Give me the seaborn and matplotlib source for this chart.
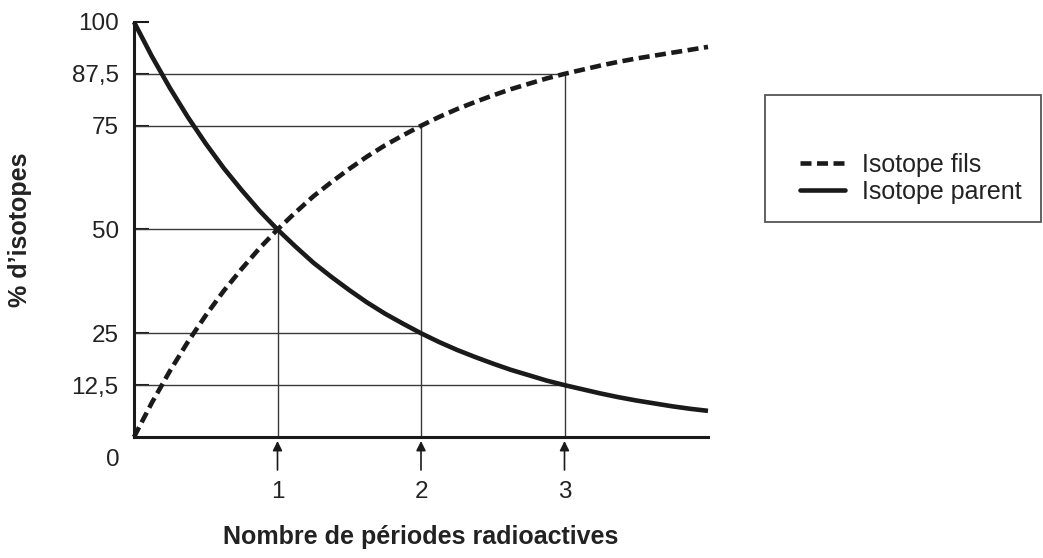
import matplotlib
matplotlib.use("Agg")
import matplotlib.pyplot as plt
from matplotlib.patches import Rectangle
from matplotlib.lines import Line2D
import seaborn as sns
import pandas as pd

# ---- data ----
periods = [0, 0.125, 0.25, 0.375, 0.5, 0.625, 0.75, 0.875, 1,
           1.125, 1.25, 1.375, 1.5, 1.625, 1.75, 1.875, 2,
           2.125, 2.25, 2.375, 2.5, 2.625, 2.75, 2.875, 3,
           3.125, 3.25, 3.375, 3.5, 3.625, 3.75, 3.875, 4]
parent = [100, 91.7, 84.1, 77.1, 70.7, 64.8, 59.5, 54.5, 50,
          45.9, 42, 38.6, 35.4, 32.4, 29.7, 27.3, 25,
          22.9, 21, 19.3, 17.7, 16.2, 14.9, 13.6, 12.5,
          11.5, 10.5, 9.6, 8.8, 8.1, 7.4, 6.8, 6.3]
fils = [0, 8.3, 15.9, 22.9, 29.3, 35.2, 40.5, 45.5, 50,
        54.1, 58, 61.4, 64.6, 67.6, 70.3, 72.7, 75,
        77.1, 79, 80.7, 82.3, 83.8, 85.1, 86.4, 87.5,
        88.5, 89.5, 90.4, 91.2, 91.9, 92.6, 93.3, 94]
ytick_vals = [12.5, 25, 50, 75, 87.5, 100]
ytick_labels = ["12,5", "25", "50", "75", "87,5", "100"]
xtick_vals = [1, 2, 3]
xtick_labels = ["1", "2", "3"]
# guide lines: horizontal level -> x end, vertical position -> top
h_levels = [50, 75, 87.5, 25, 12.5]
h_ends = [1, 2, 3, 2, 3]
v_pos = [1, 2, 3]
v_tops = [50, 75, 87.5]
label_fils = "Isotope fils"
label_parent = "Isotope parent"
xlabel = "Nombre de périodes radioactives"
ylabel = "% d\u2019isotopes"

sns.set_theme(style="white")
plt.rcParams["font.family"] = ["Liberation Sans", "DejaVu Sans"]

W, H = 1043, 558
fig = plt.figure(figsize=(W / 100, H / 100), dpi=100)
ax = fig.add_axes([134 / W, 1 - 437 / H, 574 / W, 415 / H])

ink = "#1a1a1a"
txt = "#222222"
fs_tick = 17.5
fs_lab = 18

df = pd.DataFrame({"x": periods * 2,
                   "y": fils + parent,
                   "serie": [label_fils] * len(fils) + [label_parent] * len(parent)})

ax.hlines(h_levels, 0, h_ends, colors="#3a3a3a", linewidth=1.0, zorder=1)
ax.vlines(v_pos, 0, v_tops, colors="#3a3a3a", linewidth=1.0, zorder=1)

sns.lineplot(data=df, x="x", y="y", hue="serie", style="serie",
             palette=[ink, ink],
             dashes={label_fils: (2.4, 1.2), label_parent: ""},
             linewidth=3.3, ax=ax, legend=False, zorder=3)
for ln in ax.lines:
    ln.set_clip_on(False)
    ln.set_solid_capstyle("butt")
    ln.set_dash_capstyle("butt")

ax.set_xlim(0, 4)
ax.set_ylim(0, 100)

for s in ["top", "right"]:
    ax.spines[s].set_visible(False)
for s in ["left", "bottom"]:
    ax.spines[s].set_color(ink)
    ax.spines[s].set_linewidth(2.2)

ax.set_yticks(ytick_vals)
ax.set_yticklabels(ytick_labels)
ax.tick_params(axis="y", direction="in", length=11, width=1.5, color=ink,
               labelsize=fs_tick, labelcolor=txt, pad=11, left=True)
ax.set_xticks(xtick_vals)
ax.set_xticklabels(xtick_labels)
ax.tick_params(axis="x", length=0, labelsize=fs_tick, labelcolor=txt, pad=32)

ax.text(-14 / 574, -23 / 415, "0", transform=ax.transAxes,
        ha="right", va="center", fontsize=fs_tick, color=txt)

for xv in xtick_vals:
    ax.annotate("", xy=(xv, -4 / 415), xytext=(xv, -33 / 415),
                xycoords=ax.get_xaxis_transform(), textcoords=ax.get_xaxis_transform(),
                arrowprops=dict(arrowstyle="-|>", color=ink, lw=1.2,
                                mutation_scale=14, shrinkA=0, shrinkB=0))

ax.set_xlabel(xlabel, fontsize=fs_lab, fontweight="bold", color=txt, va="center")
ax.xaxis.set_label_coords(0.5, -(537 - 437) / 415)
ax.set_ylabel(ylabel, fontsize=fs_lab, fontweight="bold", color=txt, va="center")
ax.yaxis.set_label_coords(-(134 - 20) / 574, 0.5)

fig.patches.append(Rectangle((765 / W, 1 - 222 / H), (1041 - 765) / W, (222 - 95) / H,
                             transform=fig.transFigure, fill=False,
                             edgecolor="#555555", linewidth=1.3))
handles = [Line2D([], [], color=ink, lw=3.3, linestyle=(0, (2.4, 1.2)), dash_capstyle="butt"),
           Line2D([], [], color=ink, lw=3.3)]
fig.legend(handles, [label_fils, label_parent], loc="center left",
           bbox_to_anchor=(800 / W, 1 - 178.5 / H), frameon=False,
           fontsize=fs_lab, handlelength=1.8, handletextpad=0.68, labelspacing=0.1,
           borderpad=0, borderaxespad=0, labelcolor=txt)

fig.savefig("out.png", dpi=100)
